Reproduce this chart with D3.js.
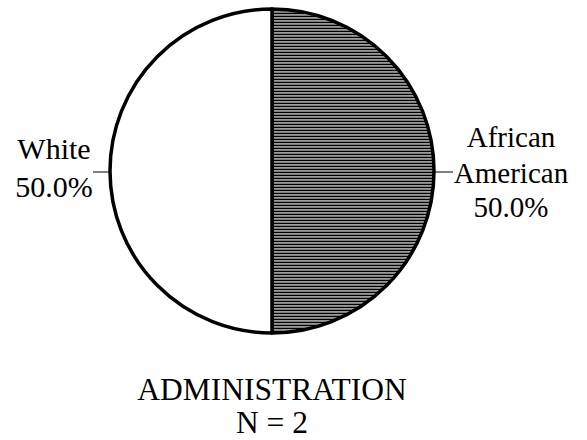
<!DOCTYPE html>
<html>
<head>
<meta charset="utf-8">
<script src="https://cdn.jsdelivr.net/npm/d3@7"></script>
<style>
  body { margin: 0; background: #fff; }
  text { font-family: "Liberation Serif", "Times New Roman", serif; fill: #000; }
</style>
</head>
<body>
<script>
// data
const groups = ["African American", "White"];
const shares = [50.0, 50.0];
const labelLines = [["African", "American", "50.0%"], ["White", "50.0%"]];
const title = ["ADMINISTRATION", "N = 2"];

const width = 587, height = 440;
const cx = 272, cy = 171, radius = 162;

const svg = d3.select("body").append("svg")
  .attr("width", width)
  .attr("height", height);

// horizontal line hatching for the dark slice
const defs = svg.append("defs");
const hatch = defs.append("pattern")
  .attr("id", "hatch")
  .attr("patternUnits", "userSpaceOnUse")
  .attr("width", 8)
  .attr("height", 3);
hatch.append("rect").attr("width", 8).attr("height", 3).attr("fill", "#fff");
hatch.append("rect").attr("y", 0.5).attr("width", 8).attr("height", 1.9).attr("fill", "#000");

const pie = d3.pie().sort(null).value(d => d);
const arcs = pie(shares);
const arc = d3.arc().innerRadius(0).outerRadius(radius);

const g = svg.append("g").attr("transform", `translate(${cx},${cy})`);

g.selectAll("path.slice")
  .data(arcs)
  .enter().append("path")
  .attr("class", "slice")
  .attr("d", arc)
  .attr("fill", (d, i) => i === 0 ? "url(#hatch)" : "#fff")
  .attr("stroke", "#000")
  .attr("stroke-width", 3.5)
  .attr("stroke-linejoin", "round");

// label positions (relative to centre)
const labelPos = [
  {x: 239, size: 29, baselines: [-24, 12, 46], line: [163, 181]},
  {x: -218, size: 30, baselines: [-12, 26], line: [-162, -179]}
];

arcs.forEach((d, i) => {
  const p = labelPos[i];
  g.append("line")
    .attr("x1", p.line[0]).attr("x2", p.line[1])
    .attr("y1", 1).attr("y2", 1)
    .attr("stroke", "#000")
    .attr("stroke-width", 1);
  const t = g.append("text")
    .attr("text-anchor", "middle")
    .style("font-size", p.size + "px");
  labelLines[i].forEach((s, k) => {
    t.append("tspan").attr("x", p.x).attr("y", p.baselines[k]).text(s);
  });
});

svg.append("g").selectAll("text")
  .data(title)
  .enter().append("text")
  .attr("x", cx)
  .attr("y", (d, i) => 400 + i * 33)
  .attr("text-anchor", "middle")
  .style("font-size", "31.5px")
  .text(d => d);
</script>
</body>
</html>
